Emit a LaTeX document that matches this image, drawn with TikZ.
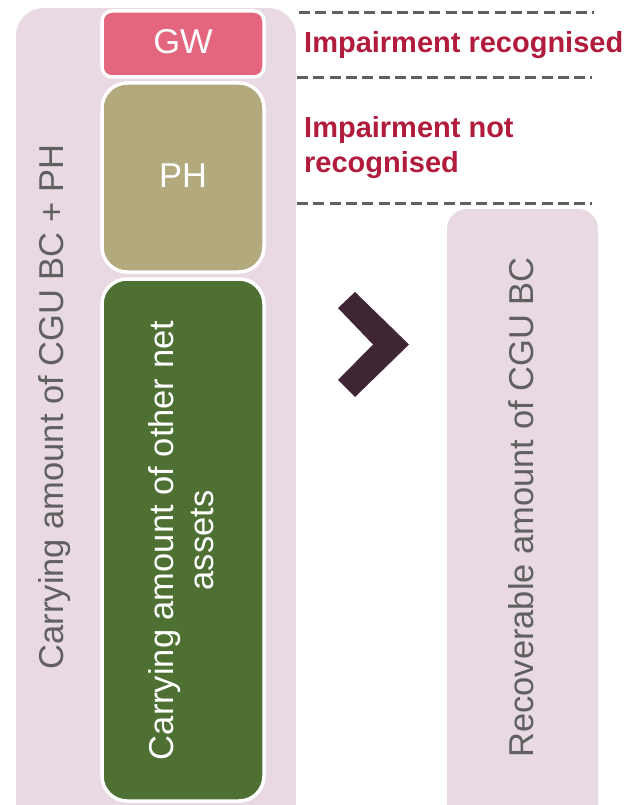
\documentclass[tikz,border=0pt]{standalone}
\usepackage{fontspec}
\setmainfont{Liberation Sans}
\definecolor{boxpink}{HTML}{E8D9E3}
\definecolor{gwpink}{HTML}{E4667E}
\definecolor{pholive}{HTML}{B2A97D}
\definecolor{netgreen}{HTML}{4E7033}
\definecolor{labelgray}{HTML}{606060}
\definecolor{impred}{HTML}{B11C3D}
\definecolor{sepgray}{HTML}{5F5F5F}
\definecolor{chevron}{HTML}{402535}
\begin{document}
\begin{tikzpicture}[x=1pt, y=-1pt,
    block/.style={draw=white, line width=3.5pt, rounded corners=25pt},
    vlabel/.style={rotate=90, anchor=base, font=\fontsize{34.5}{40}\selectfont},
    note/.style={anchor=base west, align=left, inner sep=0pt, text=impred,
      font=\fontsize{29}{35}\selectfont\bfseries},
    sep/.style={draw=sepgray, line width=3pt, dash pattern=on 11pt off 5.3pt}]
    \clip (0,0) rectangle (630,805);

    % background columns
    \fill[boxpink, rounded corners=28pt] (16,8) rectangle (296,860);
    \fill[boxpink, rounded corners=20pt] (447,209) rectangle (598,860);

    % stacked blocks
    \filldraw[block, fill=gwpink, rounded corners=10pt] (102,11) rectangle (264,77);
    \filldraw[block, fill=pholive] (102,83) rectangle (264,272);
    \filldraw[block, fill=netgreen] (102,279) rectangle (264,801);

    \node[anchor=base, text=white, font=\fontsize{34.5}{40}\selectfont] (gw) at (183,54) {GW};
    \node[anchor=base, text=white, font=\fontsize{34.5}{40}\selectfont] (ph) at (183,188) {PH};
    \node[vlabel, text=white, align=center] (net) at (213,540.5)
      {Carrying amount of other net\\assets};
    \node[vlabel, text=labelgray] (cgu) at (63,407) {Carrying amount of CGU BC + PH};
    \node[vlabel, text=labelgray] (rec) at (533,507.5) {Recoverable amount of CGU BC};

    % separators and notes
    \draw[sep] (299,12.5) -- (594,12.5);
    \draw[sep] (297,78) -- (592,78);
    \draw[sep] (297,203) -- (592,203);
    \node[note] (recog) at (304,53) {Impairment recognised};
    \node[note] (notrecog) at (304,172) {Impairment not\\recognised};

    % comparison sign
    \fill[chevron] (338,308) -- (355,292) -- (409,344.5) -- (355,397)
      -- (338,380) -- (373,344.5) -- cycle;
\end{tikzpicture}
\end{document}
